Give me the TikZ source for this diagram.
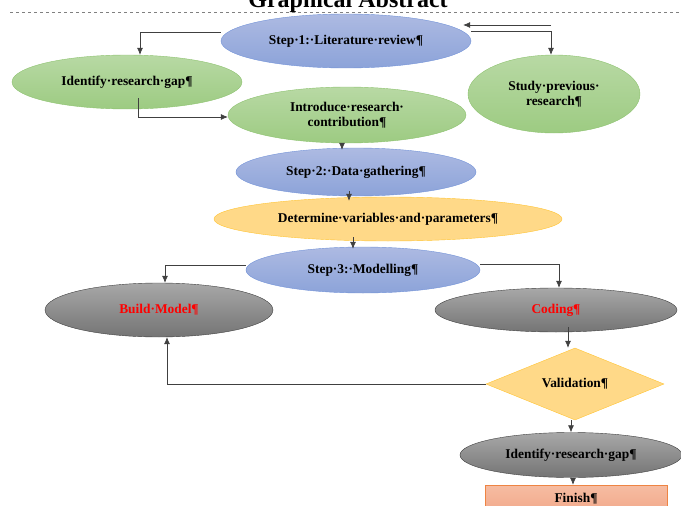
\documentclass[tikz,border=0pt]{standalone}
\usepackage{fontspec}
\setmainfont{Liberation Serif}
\usepackage{xcolor}
\usepackage{tikz}
\usetikzlibrary{
  arrows.meta,
  positioning,
  shapes.geometric
}
\definecolor{bluetop}{HTML}{ADBAE2}
\definecolor{bluebot}{HTML}{8CA3D9}
\definecolor{blueline}{HTML}{7393D8}
\definecolor{greentop}{HTML}{B8D9A4}
\definecolor{greenbot}{HTML}{9DCB82}
\definecolor{greenline}{HTML}{8DC26F}
\definecolor{yellowfill}{HTML}{FFD988}
\definecolor{yellowline}{HTML}{FFC433}
\definecolor{graytop}{HTML}{A8A8A8}
\definecolor{graybot}{HTML}{747474}
\definecolor{grayline}{HTML}{404040}
\definecolor{finishtop}{HTML}{F6BCA2}
\definecolor{finishbot}{HTML}{F2A98A}
\definecolor{finishline}{HTML}{EE8443}

\begin{document}
\begin{tikzpicture}[
  x=1pt, y=-1pt,
  every node/.style={font=\bfseries\fontsize{13.4}{15}\selectfont, align=center, inner sep=0pt},
  stepnode/.style={ellipse, draw=blueline, top color=bluetop, bottom color=bluebot},
  subnode/.style={ellipse, draw=greenline, top color=greentop, bottom color=greenbot},
  paramnode/.style={ellipse, draw=yellowline, fill=yellowfill},
  worknode/.style={ellipse, draw=grayline, top color=graytop, bottom color=graybot},
  checknode/.style={diamond, draw=yellowline, fill=yellowfill},
  endnode/.style={rectangle, draw=finishline, top color=finishtop, bottom color=finishbot},
  arrow/.style={-{Latex[length=7pt, width=6pt]}, draw=black!75, line width=0.6pt},
]
  \useasboundingbox (0,0) rectangle (681,506);
  \clip (0,0) rectangle (681,506);

  % Header
  \node[font=\bfseries\fontsize{24}{28}\selectfont, anchor=base] (title) at (348,8) {Graphical Abstract};
  \draw[gray, dashed, line width=0.4pt] (10,12) -- (681,12);

  % Step 1
  \node[stepnode, minimum width=250pt, minimum height=54pt] (s1) at (346,41) {Step·1:·Literature·review¶};
  \node[subnode, minimum width=230pt, minimum height=54pt] (gap1) at (127,82) {Identify·research·gap¶};
  \node[subnode, minimum width=238pt, minimum height=56pt] (intro) at (347,115) {Introduce·research·\\contribution¶};
  \node[subnode, minimum width=172pt, minimum height=78pt] (study) at (554,94) {Study·previous·\\research¶};

  \draw[arrow] ([yshift=9pt]s1.west) -| ([xshift=13pt]gap1.north);
  \draw[arrow] ([xshift=80pt, yshift=16pt]s1.east) -- ([xshift=-8pt, yshift=16pt]s1.east);
  \draw[arrow] ([yshift=10pt]s1.east) -| ([xshift=-3pt]study.north);
  \draw[arrow] ([xshift=11pt, yshift=11pt]gap1.south) |- ([yshift=-2pt]intro.west);

  % Step 2
  \node[stepnode, minimum width=240pt, minimum height=48pt] (s2) at (356,172) {Step·2:·Data·gathering¶};
  \node[paramnode, minimum width=348pt, minimum height=44pt] (det) at (388,219) {Determine·variables·and·parameters¶};

  \draw[arrow] ([xshift=-5pt]intro.south) -- ([xshift=-5pt, yshift=-2pt]intro.south |- s2.north);
  \draw[arrow] ([xshift=-7pt, yshift=5pt]s2.south) -- ([xshift=-7pt, yshift=-4pt]s2.south |- det.north);

  % Step 3
  \node[stepnode, minimum width=234pt, minimum height=46pt] (s3) at (363,270) {Step·3:·Modelling¶};
  \node[worknode, minimum width=228pt, minimum height=54pt, text=red] (build) at (159,310) {Build·Model¶};
  \node[worknode, minimum width=242pt, minimum height=44pt, text=red] (coding) at (556,310) {Coding¶};
  \node[checknode, shape aspect=2.47, minimum width=178pt, minimum height=72pt] (valid) at (575,384) {Validation¶};
  \node[worknode, minimum width=222pt, minimum height=45pt] (gap2) at (571,455) {Identify·research·gap¶};
  \node[endnode, minimum width=182pt, minimum height=28pt] (finish) at (576,499) {Finish¶};

  \draw[arrow] ([xshift=-35pt, yshift=4pt]det.south) -- ([xshift=-10pt, yshift=-2pt]s3.north);
  \draw[arrow] ([yshift=5pt]s3.west) -| ([xshift=6pt]build.north);
  \draw[arrow] ([yshift=6pt]s3.east) -| ([xshift=3pt]coding.north);
  \draw[arrow] ([xshift=12pt, yshift=5pt]coding.south) -- ([xshift=12pt]coding.south |- valid.north);
  \draw[arrow] (valid.west) -| ([xshift=8pt]build.south);
  \draw[arrow] ([xshift=-4pt]valid.south) -- ([xshift=-4pt]valid.south |- gap2.north);
  \draw[arrow] ([xshift=2pt]gap2.south) -- ([xshift=2pt]gap2.south |- finish.north);

\end{tikzpicture}
\end{document}
